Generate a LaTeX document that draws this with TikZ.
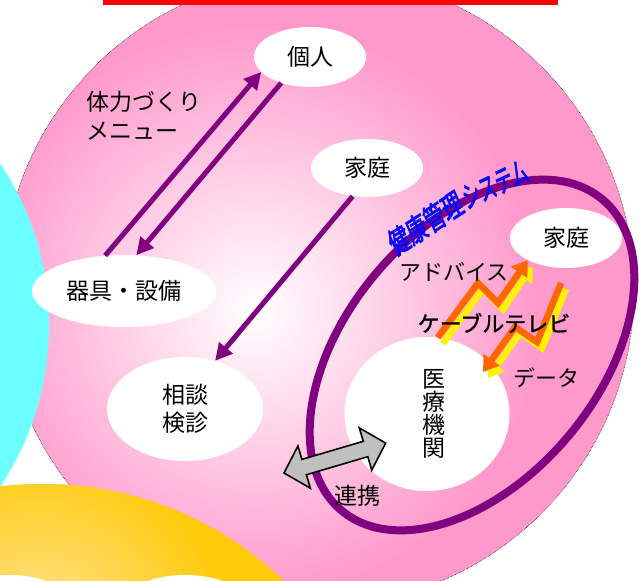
\documentclass[tikz,border=0pt]{standalone}
\usepackage{fontspec}
\setmainfont{Noto Sans CJK JP}
\newfontfamily\jpbold[FakeBold=1.2]{Noto Sans CJK JP}
\newfontfamily\jpwa[FakeBold=3,FakeSlant=0.22]{Noto Sans CJK JP}
\usetikzlibrary{arrows.meta,shapes.geometric}
\definecolor{pinkA}{HTML}{FF99CC}
\definecolor{cyanA}{HTML}{6CFFFF}
\definecolor{goldA}{HTML}{FFCA0A}
\definecolor{paleA}{HTML}{FFE49C}
\definecolor{purpA}{HTML}{800080}
\definecolor{orangeA}{HTML}{FF6600}
\definecolor{grayA}{HTML}{C0C0C0}
\definecolor{blueA}{HTML}{0A0AF5}
\begin{document}
\begin{tikzpicture}[x=1pt,y=-1pt,
  jp/.style={font=\fontsize{23}{28}\selectfont, text=black, inner sep=0pt},
  jps/.style={font=\fontsize{22}{26}\selectfont, text=black, inner sep=0pt},
  wa/.style={text=blueA, font=\jpwa\fontsize{27}{27}\selectfont, inner sep=0pt},
  wnode/.style={ellipse, fill=white, inner sep=0pt},
  parrow/.style={draw=purpA, line width=5pt, -{Triangle[length=17pt,width=17pt]}},
  zarrow/.style={draw=orangeA, line width=6.5pt, line join=miter, -{Triangle[length=15pt,width=19pt]}},
  zshadow/.style={draw=yellow, line width=6.5pt, line join=miter, -{Triangle[length=15pt,width=19pt]}, transform canvas={shift={(5pt,-6pt)}}},
]
\useasboundingbox (0,0) rectangle (640,581);
\clip (0,0) rectangle (640,581);
% pink disc
\fill[pinkA] (318,290) circle (316);
\begin{scope}
\clip (318,290) circle (316);
\shade[inner color=white, outer color=pinkA] (255,310) circle (285);
\end{scope}
\draw[black, line width=0.5pt, densely dotted] (318,290) circle (316);
% red bar
\fill[red] (103,0) rectangle (558,5);
% cyan circle
\fill[cyanA] (-243,325) circle (292);
% yellow circle
\fill[goldA] (43,832) circle (348);
\begin{scope}
\clip (43,832) circle (348);
\shade[inner color=paleA, outer color=goldA] (40,640) circle (190);
\end{scope}
% white bumps at the bottom
\fill[white] (10,611) ellipse [x radius=66, y radius=36];
\fill[white] (185,611) ellipse [x radius=68, y radius=36];
% purple loop
\draw[purpA, line width=8pt, rotate around={50:(472,355)}] (472,355) ellipse [x radius=203, y radius=126];
% nodes
\node[wnode, minimum width=112, minimum height=60, jp] (kojin) at (310,57) {個人};
\node[wnode, minimum width=112, minimum height=58, jp] (katei1) at (367,168) {家庭};
\node[wnode, minimum width=184, minimum height=72, jp] (kigu) at (124,291) {器具・設備};
\node[wnode, minimum width=156, minimum height=104, jp, align=center] (soudan) at (185,409) {相談\\検診};
\node[wnode, minimum width=112, minimum height=60, jp] (katei2) at (566,238) {家庭};
\node[wnode, minimum width=165, minimum height=154] (iryo) at (427,414) {};
\node[jp, font=\fontsize{23}{23}\selectfont, align=center] (iryoT) at (434,414) {医\\療\\機\\関};
\node[jp, anchor=west, align=left, font=\fontsize{23}{29}\selectfont] (tairyoku) at (86,116) {体力づくり\\メニュー};
% purple arrows
\draw[parrow] (kigu.118) -- (kojin.197);
\draw[parrow] (kojin.222) -- (kigu.71);
\draw[parrow] (katei1.243) -- (soudan.58);
% zigzag arrows
\coordinate (a1) at (478,283);
\coordinate (a2) at (498,303);
\coordinate (d0) at (561,283);
\coordinate (d1) at (537,342);
\coordinate (d2) at (515,327);
\coordinate (d3) at (483,372);
\draw[zshadow] (iryo.82) -- (a1) -- (a2) -- (katei2.210);
\draw[zshadow] (d0) -- (d1) -- (d2) -- (d3);
\draw[zarrow] (iryo.82) -- (a1) -- (a2) -- (katei2.210);
\draw[zarrow] (d0) -- (d1) -- (d2) -- (d3);
% labels
\node[jps] (advice) at (454,272) {アドバイス};
\node[jps, font=\jpbold\fontsize{22}{26}\selectfont] (catv) at (494,323) {ケーブルテレビ};
\node[jps] (data) at (546,378) {データ};
\node[jp] (renkei) at (357,496) {連携};
% WordArt title
\node[wa, rotate=33, xscale=0.78, yscale=1.1] (title1) at (424,224) {健康管理};
\node[wa, rotate=25, xscale=0.66, yscale=1.1] (title2) at (494,185) {システム};
% gray double arrow
\begin{scope}[shift={(284,473)}, rotate=16.4]
\draw[black, line width=1.6pt, fill=grayA, line join=miter]
  (0,0) -- (21,-22) -- (21,-8) -- (85,-8) -- (85,-22) -- (106,0) -- (85,22) -- (85,8) -- (21,8) -- (21,22) -- cycle;
\end{scope}
\end{tikzpicture}
\end{document}
